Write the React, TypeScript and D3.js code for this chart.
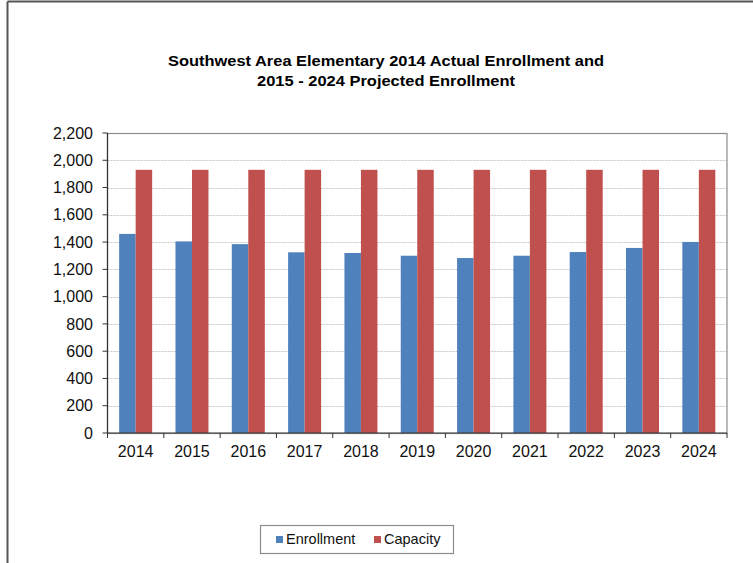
import { useMemo } from 'react';
import * as d3 from 'd3';

const years = ['2014', '2015', '2016', '2017', '2018', '2019', '2020', '2021', '2022', '2023', '2024'];
const enrollment = [1460, 1405, 1385, 1325, 1320, 1300, 1283, 1300, 1327, 1357, 1401];
const capacity = [1930, 1930, 1930, 1930, 1930, 1930, 1930, 1930, 1930, 1930, 1930];
const seriesNames = ['Enrollment', 'Capacity'];
const seriesColors = ['#4f81bd', '#c0504d'];
const yTicks = [0, 200, 400, 600, 800, 1000, 1200, 1400, 1600, 1800, 2000, 2200];
const titleLines = [
  'Southwest Area Elementary 2014 Actual Enrollment and',
  '2015 - 2024 Projected Enrollment',
];
const titleWidths = [436, 258];

const W = 753;
const H = 563;
const PLOT = { left: 107.5, right: 727, top: 133, bottom: 433 };
const FONT = "'Liberation Sans', Arial, sans-serif";

export default function App() {
  const x = useMemo(
    () => d3.scaleBand<string>().domain(years).range([PLOT.left, PLOT.right]).paddingInner(0).paddingOuter(0),
    [],
  );
  const inner = useMemo(
    () => d3.scaleBand<string>().domain(seriesNames).range([0, 33]).padding(0),
    [],
  );
  const y = useMemo(() => d3.scaleLinear().domain([0, 2200]).range([PLOT.bottom, PLOT.top]), []);
  const fmt = d3.format(',');
  const series = [enrollment, capacity];
  const step = x.step();

  return (
    <div style={{ position: 'fixed', left: 0, top: 0 }}>
      <svg width={W} height={H} style={{ display: 'block', background: '#fff' }}>
        {/* outer chart frame */}
        <line x1={7.5} y1={1.5} x2={W} y2={1.5} stroke="#555" strokeWidth={2} />
        <line x1={7.5} y1={1.5} x2={7.5} y2={H} stroke="#555" strokeWidth={2} />

        {titleLines.map((t, i) => (
          <text
            key={t}
            x={386}
            y={66 + i * 20}
            textAnchor="middle"
            fontFamily={FONT}
            fontWeight="bold"
            fontSize={15}
            textLength={titleWidths[i]}
            lengthAdjust="spacingAndGlyphs"
            fill="#000"
          >
            {t}
          </text>
        ))}

        {/* gridlines */}
        {yTicks.slice(1).map((v) => (
          <line
            key={v}
            x1={PLOT.left}
            x2={PLOT.right}
            y1={Math.round(y(v)) + 0.5}
            y2={Math.round(y(v)) + 0.5}
            stroke="#c8c8c8"
            strokeDasharray="2,1"
          />
        ))}

        {/* bars */}
        {series.map((vals, si) =>
          vals.map((v, i) => {
            const cx = x(years[i])! + step / 2 - inner.range()[1] / 2;
            return (
              <rect
                key={`${si}-${i}`}
                x={cx + inner(seriesNames[si])!}
                y={y(v)}
                width={inner.bandwidth()}
                height={y(0) - y(v)}
                fill={seriesColors[si]}
              />
            );
          }),
        )}

        {/* plot border */}
        <rect
          x={PLOT.left}
          y={PLOT.top + 0.5}
          width={PLOT.right - PLOT.left}
          height={PLOT.bottom - PLOT.top}
          fill="none"
          stroke="#8c8c8c"
          strokeWidth={1.2}
        />
        <line x1={PLOT.left} x2={PLOT.left} y1={PLOT.top} y2={PLOT.bottom} stroke="#333" strokeWidth={1.2} />
        <line x1={PLOT.left} x2={PLOT.right} y1={PLOT.bottom} y2={PLOT.bottom} stroke="#333" strokeWidth={1.2} />

        {/* y ticks and labels */}
        {yTicks.map((v) => (
          <g key={v}>
            <line x1={PLOT.left - 5} x2={PLOT.left} y1={y(v)} y2={y(v)} stroke="#333" />
            <text
              x={93}
              y={y(v)}
              dy="0.35em"
              textAnchor="end"
              fontFamily={FONT}
              fontSize={16}
              fill="#111"
            >
              {fmt(v)}
            </text>
          </g>
        ))}

        {/* x ticks and labels */}
        {[...years.map((yr) => x(yr)!), PLOT.right].map((px, i) => (
          <line key={i} x1={px} x2={px} y1={PLOT.bottom} y2={PLOT.bottom + 5} stroke="#333" />
        ))}
        {years.map((yr) => (
          <text
            key={yr}
            x={x(yr)! + step / 2}
            y={457}
            textAnchor="middle"
            fontFamily={FONT}
            fontSize={16}
            fill="#111"
          >
            {yr}
          </text>
        ))}

        {/* legend */}
        <rect x={260.5} y={525.5} width={193} height={28} fill="#fff" stroke="#8c8c8c" strokeWidth={1.2} />
        {seriesNames.map((name, i) => {
          const lx = [276, 374][i];
          return (
            <g key={name}>
              <rect x={lx} y={536} width={7} height={7} fill={seriesColors[i]} />
              <text x={lx + 10} y={544} fontFamily={FONT} fontSize={14.5} fill="#111">
                {name}
              </text>
            </g>
          );
        })}
      </svg>
    </div>
  );
}
